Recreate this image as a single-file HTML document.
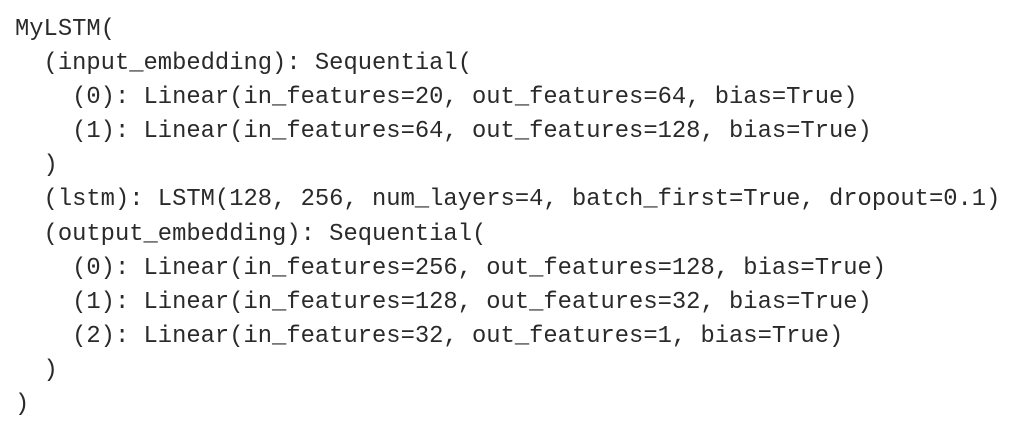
<!DOCTYPE html>
<html><head><style>
html,body{margin:0;padding:0;background:#fff;width:1024px;height:428px;overflow:hidden}
pre{margin:0;position:absolute;left:15px;top:13px;font-family:"Liberation Mono",monospace;font-size:23.8px;line-height:34.1px;color:#2a2a2a}
</style></head><body>
<pre>MyLSTM(
  (input_embedding): Sequential(
    (0): Linear(in_features=20, out_features=64, bias=True)
    (1): Linear(in_features=64, out_features=128, bias=True)
  )
  (lstm): LSTM(128, 256, num_layers=4, batch_first=True, dropout=0.1)
  (output_embedding): Sequential(
    (0): Linear(in_features=256, out_features=128, bias=True)
    (1): Linear(in_features=128, out_features=32, bias=True)
    (2): Linear(in_features=32, out_features=1, bias=True)
  )
)</pre>
</body></html>
